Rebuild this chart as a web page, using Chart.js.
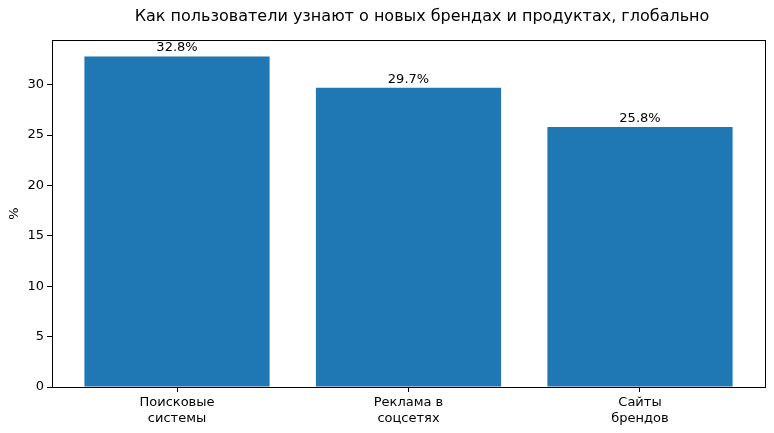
<!DOCTYPE html>
<html>
<head>
<meta charset="utf-8">
<script src="https://cdn.jsdelivr.net/npm/chart.js@4"></script>
<style>
  html, body { margin: 0; padding: 0; background: #fff; }
  #c { display: block; }
</style>
</head>
<body>
<canvas id="c" width="774" height="433"></canvas>
<script>
const chartTitle = "Как пользователи узнают о новых брендах и продуктах, глобально";
const categories = [["Поисковые", "системы"], ["Реклама в", "соцсетях"], ["Сайты", "брендов"]];
const shares = [32.8, 29.7, 25.8];
const yTicks = [0, 5, 10, 15, 20, 25, 30];

const FONT = "'DejaVu Sans', sans-serif";

// title, value labels and the four-sided frame, matplotlib style
const extras = {
    id: "extras",
    afterDraw(chart) {
        const ctx = chart.ctx;
        const area = chart.chartArea;
        ctx.save();
        ctx.fillStyle = "#000";
        ctx.font = "16px " + FONT;
        ctx.textAlign = "center";
        ctx.textBaseline = "middle";
        ctx.fillText(chartTitle, 422, 17);

        ctx.font = "13px " + FONT;
        ctx.textBaseline = "bottom";
        const meta = chart.getDatasetMeta(0);
        meta.data.forEach((bar, i) => {
            ctx.fillText(shares[i].toFixed(1) + "%", bar.x, bar.y - 2);
        });

        ctx.strokeStyle = "#000";
        ctx.lineWidth = 1;
        ctx.strokeRect(Math.round(area.left) + 0.5, Math.round(area.top) + 0.5,
            Math.round(area.right - area.left), Math.round(area.bottom - area.top));

        ctx.translate(15, (area.top + area.bottom) / 2);
        ctx.rotate(-Math.PI / 2);
        ctx.textBaseline = "middle";
        ctx.fillText("%", 0, 0);
        ctx.restore();
    }
};

new Chart(document.getElementById("c"), {
    type: "bar",
    data: {
        datasets: [{
            data: shares.map((v, i) => ({ x: i, y: v })),
            backgroundColor: "#1f77b4",
            borderWidth: 0,
            barPercentage: 0.8,
            categoryPercentage: 1.0
        }]
    },
    options: {
        responsive: false,
        animation: false,
        layout: { padding: { top: 40, right: 9, left: 0, bottom: 0 } },
        plugins: { legend: { display: false }, tooltip: { enabled: false } },
        scales: {
            x: {
                type: "linear",
                offset: false,
                min: -0.54,
                max: 2.54,
                afterBuildTicks: axis => { axis.ticks = categories.map((c, i) => ({ value: i })); },
                afterFit: axis => { axis.height = 46; },
                grid: { offset: false, drawOnChartArea: false, drawTicks: true, tickLength: 5, color: "#000" },
                border: { display: false },
                ticks: {
                    color: "#000",
                    font: { family: FONT, size: 13 },
                    padding: 3,
                    maxRotation: 0,
                    autoSkip: false,
                    callback: v => categories[v]
                }
            },
            y: {
                min: 0,
                max: 34.44,
                afterBuildTicks: axis => { axis.ticks = yTicks.map(v => ({ value: v })); },
                afterFit: axis => { axis.width = 52; },
                grid: { drawOnChartArea: false, drawTicks: true, tickLength: 5, color: "#000" },
                border: { display: false },
                ticks: {
                    color: "#000",
                    font: { family: FONT, size: 13 },
                    padding: 3
                }
            }
        }
    },
    plugins: [extras]
});
</script>
</body>
</html>
